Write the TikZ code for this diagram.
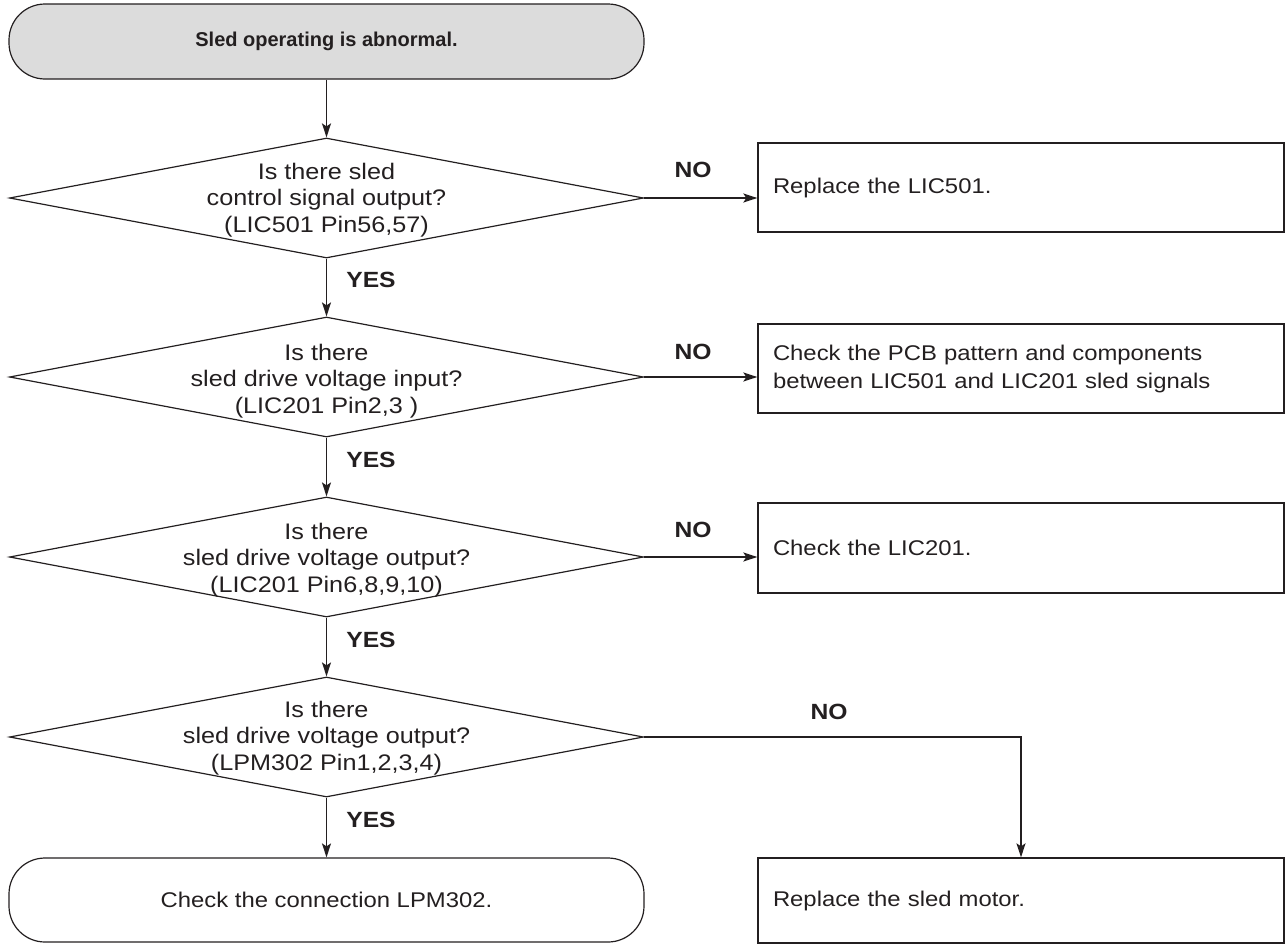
\documentclass[tikz,border=0pt]{standalone}
\usepackage{fontspec}
\setmainfont[FakeStretch=1.12]{Liberation Sans}
\newfontfamily\headfont{Liberation Sans}
\usetikzlibrary{arrows.meta, shapes.geometric}
\definecolor{ink}{HTML}{231F20}
\definecolor{shade}{HTML}{DCDCDC}
\tikzset{terminal/.style = {shape = rectangle, draw = ink, rounded corners = 36pt, minimum width = 635pt, line width = 1.2pt, inner sep = 0pt}}
\tikzset{decision/.style = {shape = diamond, draw = ink, minimum width = 634pt, minimum height = 120pt, inner sep = 0pt, line width = 1.2pt}}
\tikzset{question/.style = {align = center, text = ink, font = \fontsize{22.5}{26.5}\selectfont}}
\tikzset{action/.style = {shape = rectangle, draw = ink, minimum width = 526pt, text width = 496pt, inner xsep = 15pt, align = left, line width = 1.3pt, text = ink, font = \fontsize{21.3}{28}\selectfont}}
\tikzset{answer/.style = {text = ink, font = \bfseries\fontsize{22}{26}\selectfont}}
\tikzset{flow/.style = {draw = ink, line width = 1.6pt, -{Stealth[length = 14pt, width = 9pt, inset = 3pt]}}}

\begin{document}
\begin{tikzpicture}[x = 1pt, y = -1pt]
	\useasboundingbox (0, 0) rectangle (1285, 945);

	\node[terminal, fill = shade, minimum height = 75pt, text = ink, font = \headfont\bfseries\fontsize{20}{24}\selectfont] (start) at (326.5, 41.5) {Sled operating is abnormal.};

	\node[decision] (q1) at (326.5, 198) {};
	\node[decision] (q2) at (326.5, 377) {};
	\node[decision] (q3) at (326.5, 557) {};
	\node[decision] (q4) at (326.5, 737) {};

	\node[question] (q1t) at (326.5, 200) {Is there sled\\control signal output?\\(LIC501 Pin56,57)};
	\node[question] (q2t) at (326.5, 381) {Is there\\sled drive voltage input?\\(LIC201 Pin2,3 )};
	\node[question] (q3t) at (326.5, 560) {Is there\\sled drive voltage output?\\(LIC201 Pin6,8,9,10)};
	\node[question] (q4t) at (326.5, 738) {Is there\\sled drive voltage output?\\(LPM302 Pin1,2,3,4)};

	\node[terminal, minimum height = 84pt, text = ink, font = \fontsize{21.3}{26}\selectfont] (stop) at (326.5, 900) {Check the connection LPM302.};

	\node[action, minimum height = 89pt] (b1) at (1021, 187.5) {Replace the LIC501.};
	\node[action, minimum height = 89pt] (b2) at (1021, 368.5) {Check the PCB pattern and components\\between LIC501 and LIC201 sled signals};
	\node[action, minimum height = 90pt] (b3) at (1021, 548) {Check the LIC201.};
	\node[action, minimum height = 85pt] (b4) at (1021, 900.5) {Replace the sled motor.};

	\node[answer] (y1) at (371, 280) {YES};
	\node[answer] (y2) at (371, 460) {YES};
	\node[answer] (y3) at (371, 640) {YES};
	\node[answer] (y4) at (371, 820) {YES};

	\node[answer] (n1) at (693, 170) {NO};
	\node[answer] (n2) at (693, 352) {NO};
	\node[answer] (n3) at (693, 530) {NO};
	\node[answer] (n4) at (829, 712) {NO};

	\draw[flow] (start) -- (q1);
	\draw[flow] (q1) -- (q2);
	\draw[flow] (q2) -- (q3);
	\draw[flow] (q3) -- (q4);
	\draw[flow] (q4) -- (stop);

	\draw[flow] (q1.east) -- (q1.east -| b1.west);
	\draw[flow] (q2.east) -- (q2.east -| b2.west);
	\draw[flow] (q3.east) -- (q3.east -| b3.west);
	\draw[flow] (q4.east) -| (b4.north);
\end{tikzpicture}
\end{document}
